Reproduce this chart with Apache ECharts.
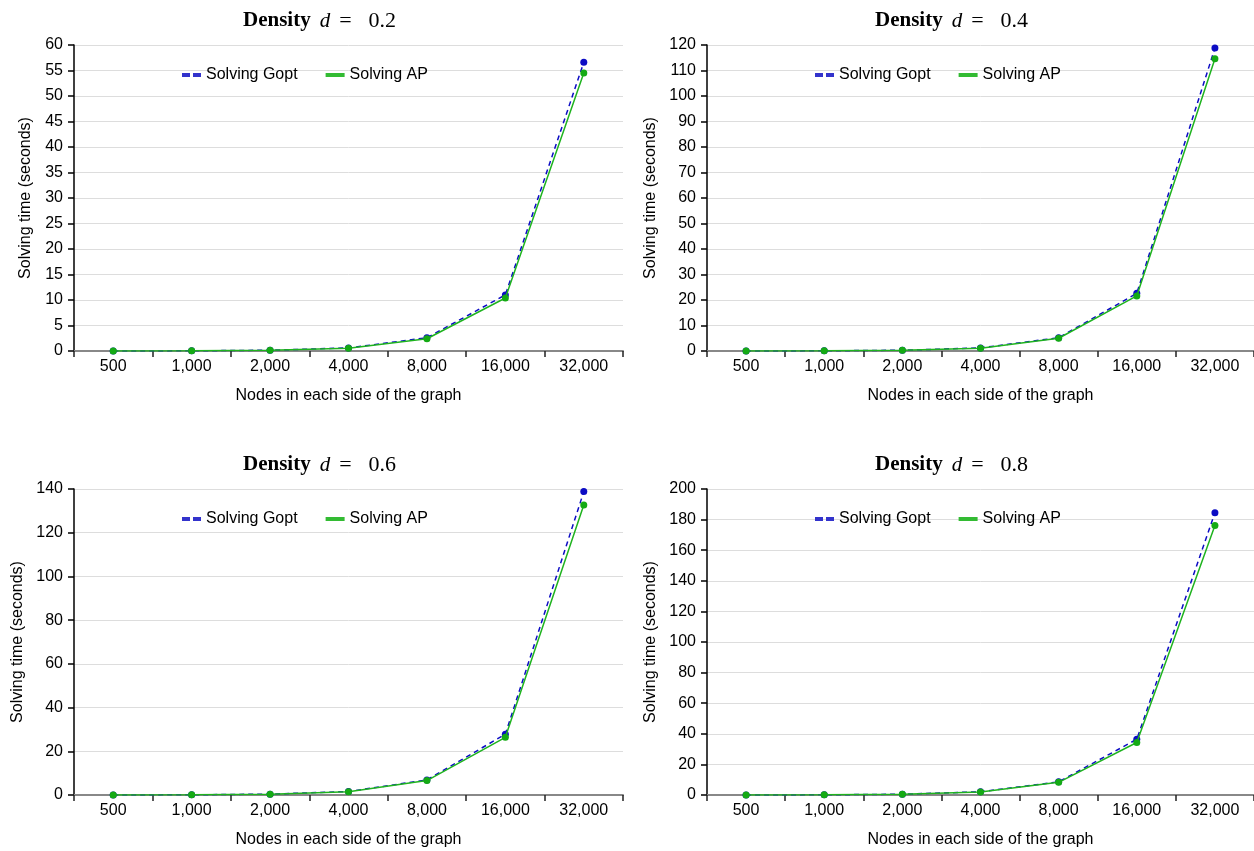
<!DOCTYPE html>
<html>
<head>
<meta charset="utf-8">
<script src="https://cdn.jsdelivr.net/npm/echarts@6/dist/echarts.min.js"></script>
<style>
html,body{margin:0;padding:0;background:#fff;}
#main{width:1254px;height:851px;}
</style>
</head>
<body>
<div id="main"></div>
<script>
var categories = ['500', '1,000', '2,000', '4,000', '8,000', '16,000', '32,000'];
var densities = ['0.2', '0.4', '0.6', '0.8'];
var yMax = [60, 120, 140, 200];
var yInterval = [5, 10, 20, 20];
var goptD02 = [0.01, 0.03, 0.15, 0.6, 2.6, 11.0, 56.6];
var apD02   = [0.01, 0.03, 0.14, 0.55, 2.4, 10.4, 54.5];
var goptD04 = [0.02, 0.06, 0.3, 1.2, 5.2, 22.6, 118.8];
var apD04   = [0.02, 0.06, 0.28, 1.1, 5.0, 21.6, 114.6];
var goptD06 = [0.02, 0.08, 0.4, 1.6, 6.9, 27.8, 138.8];
var apD06   = [0.02, 0.08, 0.38, 1.5, 6.6, 26.4, 132.7];
var goptD08 = [0.03, 0.1, 0.5, 2.1, 8.6, 36.4, 184.5];
var apD08   = [0.03, 0.1, 0.48, 2.0, 8.3, 34.3, 176.2];
var goptAll = [goptD02, goptD04, goptD06, goptD08];
var apAll = [apD02, apD04, apD06, apD08];

var BLUE = '#0c0cc4';
var GREEN = '#1fb31f';
var FONT = '"Liberation Sans", Arial, sans-serif';
var SERIF = '"Liberation Serif", "Times New Roman", serif';

var gridPos = [
  {left: 74, top: 45, width: 549, height: 306},
  {left: 707, top: 45, width: 549, height: 306},
  {left: 74, top: 489, width: 549, height: 306},
  {left: 707, top: 489, width: 549, height: 306}
];
var titlePos = [[243, 10], [875, 10], [243, 454], [875, 454]];
var legendPos = [[177, 62], [810, 62], [177, 506], [810, 506]];
var yNameGap = [40, 48, 48, 48];

var option = {
  animation: false,
  backgroundColor: '#fff',
  title: [], legend: [], grid: [], xAxis: [], yAxis: [], series: []
};

for (var i = 0; i < 4; i++) {
  option.grid.push(Object.assign({containLabel: false}, gridPos[i]));
  option.title.push({
    left: titlePos[i][0], top: titlePos[i][1], padding: 0,
    text: '{a|Density} {b|d}{e|=}{c|' + densities[i] + '}',
    textStyle: {
      fontWeight: 'normal',
      rich: {
        a: {fontFamily: SERIF, fontWeight: 'bold', fontSize: 21, color: '#000'},
        b: {fontFamily: SERIF, fontWeight: 'normal', fontStyle: 'italic', fontSize: 21, color: '#000', padding: [0, 0, 0, 4]},
        e: {fontFamily: SERIF, fontWeight: 'normal', fontSize: 22, color: '#000', padding: [0, 17, 0, 9]},
        c: {fontFamily: SERIF, fontWeight: 'normal', fontSize: 22, color: '#000'}
      }
    }
  });
  option.legend.push({
    left: legendPos[i][0], top: legendPos[i][1],
    itemGap: 28, itemWidth: 19, itemHeight: 4,
    textStyle: {fontFamily: FONT, fontSize: 16, color: '#000'},
    data: [
      {name: 'Solving Gopt', icon: 'path://M0,0 h8 v4 h-8z M11,0 h8 v4 h-8z', itemStyle: {color: '#3333cc'}},
      {name: 'Solving AP', icon: 'rect', itemStyle: {color: '#33bb33'}}
    ]
  });
  option.xAxis.push({
    type: 'category', gridIndex: i, data: categories, boundaryGap: true,
    name: 'Nodes in each side of the graph', nameLocation: 'middle', nameGap: 37,
    nameTextStyle: {fontFamily: FONT, fontSize: 16, color: '#000'},
    axisLine: {lineStyle: {color: '#888', width: 2}},
    axisTick: {show: true, length: 6, lineStyle: {color: '#222', width: 1.5}},
    axisLabel: {fontFamily: FONT, fontSize: 16, color: '#000', margin: 8},
    splitLine: {show: false}
  });
  option.yAxis.push({
    type: 'value', gridIndex: i, min: 0, max: yMax[i], interval: yInterval[i],
    name: 'Solving time (seconds)', nameLocation: 'middle', nameGap: yNameGap[i],
    nameTextStyle: {fontFamily: FONT, fontSize: 16, color: '#000'},
    axisLine: {show: true, lineStyle: {color: '#000', width: 1.5}},
    axisTick: {show: true, length: 6, lineStyle: {color: '#000', width: 1.5}},
    axisLabel: {fontFamily: FONT, fontSize: 16, color: '#000', margin: 11},
    splitLine: {show: true, lineStyle: {color: '#dddddd', width: 1}}
  });
  option.series.push({
    name: 'Solving Gopt', type: 'line', xAxisIndex: i, yAxisIndex: i,
    data: goptAll[i], symbol: 'circle', symbolSize: 7,
    lineStyle: {color: BLUE, width: 1.5, type: [5, 4]},
    itemStyle: {color: BLUE}, z: 2
  });
  option.series.push({
    name: 'Solving AP', type: 'line', xAxisIndex: i, yAxisIndex: i,
    data: apAll[i], symbol: 'circle', symbolSize: 7,
    lineStyle: {color: GREEN, width: 1.5},
    itemStyle: {color: '#14aa14'}, z: 3
  });
}

var chart = echarts.init(document.getElementById('main'), null, {renderer: 'canvas'});
chart.setOption(option);
</script>
</body>
</html>
